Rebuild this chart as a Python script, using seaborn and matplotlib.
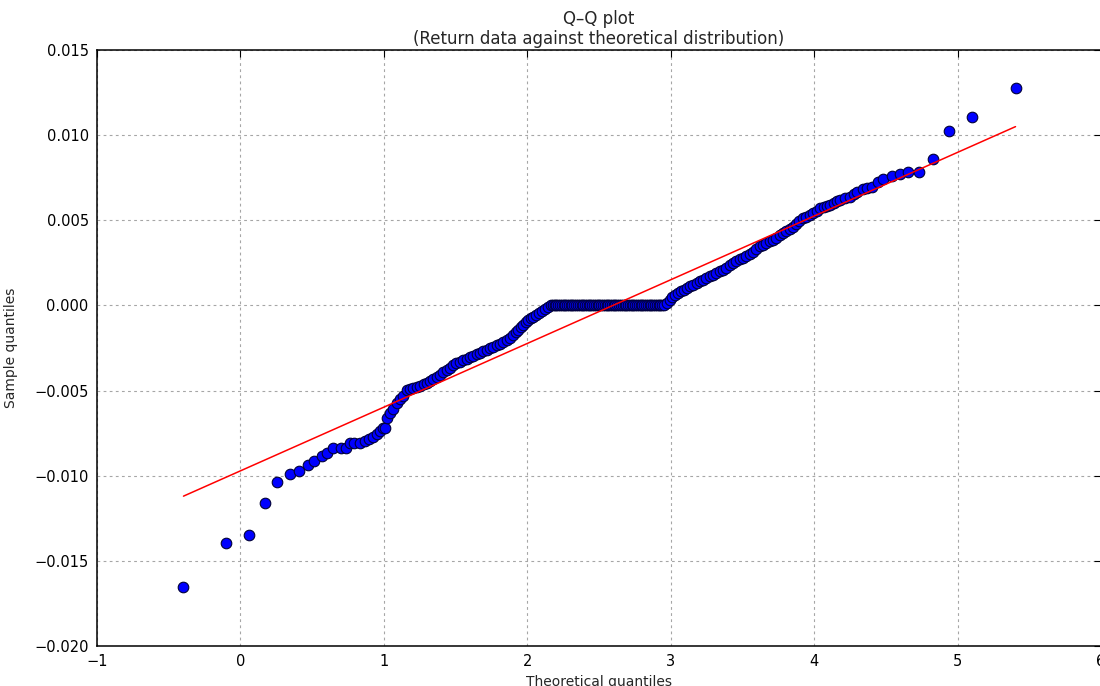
import numpy as np
import pandas as pd
import seaborn as sns
import matplotlib
matplotlib.use('Agg')
import matplotlib.pyplot as plt

# Q-Q points (theoretical quantile, sample quantile)
theoretical = [
    -0.397, -0.104, 0.063, 0.174, 0.258, 0.348, 0.411, 0.474, 0.515, 0.571,
    0.606, 0.648, 0.703, 0.738, 0.766, 0.794, 0.836, 0.870, 0.898, 0.926,
    0.954, 0.975, 0.996, 1.010, 1.024, 1.045, 1.065, 1.093, 1.114, 1.135,
    1.163, 1.184, 1.205, 1.233, 1.253, 1.281, 1.302, 1.323, 1.344, 1.372,
    1.393, 1.414, 1.442, 1.462, 1.483, 1.504, 1.532, 1.553, 1.581, 1.602,
    1.623, 1.650, 1.671, 1.692, 1.720, 1.741, 1.762, 1.790, 1.811, 1.831,
    1.859, 1.880, 1.901, 1.922, 1.936, 1.957, 1.971, 1.992, 2.006, 2.026,
    2.040, 2.061, 2.082, 2.103, 2.124, 2.145, 2.166,
    # flat run of zero returns
    2.178, 2.190, 2.203, 2.215, 2.228, 2.240, 2.253, 2.265, 2.278, 2.290,
    2.303, 2.315, 2.328, 2.340, 2.353, 2.365, 2.378, 2.390, 2.403, 2.415,
    2.428, 2.440, 2.453, 2.465, 2.478, 2.490, 2.503, 2.515, 2.528, 2.540,
    2.553, 2.565, 2.578, 2.590, 2.603, 2.615, 2.628, 2.640, 2.653, 2.665,
    2.678, 2.690, 2.703, 2.715, 2.728, 2.740, 2.753, 2.765, 2.778, 2.790,
    2.803, 2.815, 2.828, 2.840, 2.853, 2.865, 2.878, 2.890, 2.903, 2.915,
    2.928, 2.940, 2.955,
    2.974, 2.994, 3.008, 3.029, 3.050, 3.071, 3.092, 3.113, 3.134, 3.155,
    3.182, 3.203, 3.224, 3.245, 3.273, 3.294, 3.315, 3.343, 3.363, 3.384,
    3.412, 3.433, 3.454, 3.482, 3.503, 3.524, 3.552, 3.572, 3.593, 3.621,
    3.642, 3.663, 3.691, 3.712, 3.733, 3.760, 3.781, 3.802, 3.830, 3.851,
    3.872, 3.893, 3.921, 3.942, 3.969, 3.990, 4.018, 4.039, 4.067, 4.088,
    4.109, 4.136, 4.157, 4.178, 4.213, 4.248, 4.276, 4.297, 4.338, 4.366,
    4.401, 4.443, 4.478, 4.540, 4.596, 4.652, 4.728, 4.826, 4.937, 5.104,
    5.404,
]
sample = [
    -0.01654, -0.01398, -0.01348, -0.01160, -0.01037, -0.00990, -0.00972, -0.00937, -0.00913, -0.00884,
    -0.00866, -0.00837, -0.00837, -0.00837, -0.00808, -0.00808, -0.00808, -0.00796, -0.00785, -0.00773,
    -0.00755, -0.00737, -0.00720, -0.00720, -0.00661, -0.00632, -0.00608, -0.00573, -0.00550, -0.00532,
    -0.00496, -0.00491, -0.00485, -0.00479, -0.00473, -0.00461, -0.00456, -0.00444, -0.00432, -0.00420,
    -0.00408, -0.00391, -0.00379, -0.00368, -0.00350, -0.00338, -0.00332, -0.00320, -0.00314, -0.00303,
    -0.00297, -0.00285, -0.00279, -0.00268, -0.00262, -0.00250, -0.00244, -0.00232, -0.00227, -0.00215,
    -0.00203, -0.00191, -0.00174, -0.00156, -0.00144, -0.00127, -0.00115, -0.00097, -0.00085, -0.00073,
    -0.00067, -0.00055, -0.00044, -0.00032, -0.00021, -0.00009, 0.0,
    0.0, 0.0, 0.0, 0.0, 0.0, 0.0, 0.0, 0.0, 0.0, 0.0,
    0.0, 0.0, 0.0, 0.0, 0.0, 0.0, 0.0, 0.0, 0.0, 0.0,
    0.0, 0.0, 0.0, 0.0, 0.0, 0.0, 0.0, 0.0, 0.0, 0.0,
    0.0, 0.0, 0.0, 0.0, 0.0, 0.0, 0.0, 0.0, 0.0, 0.0,
    0.0, 0.0, 0.0, 0.0, 0.0, 0.0, 0.0, 0.0, 0.0, 0.0,
    0.0, 0.0, 0.0, 0.0, 0.0, 0.0, 0.0, 0.0, 0.0, 0.0,
    0.0, 0.0, 0.0,
    0.00014, 0.00032, 0.00049, 0.00061, 0.00073, 0.00085, 0.00090, 0.00102, 0.00114, 0.00120,
    0.00132, 0.00143, 0.00149, 0.00161, 0.00173, 0.00179, 0.00190, 0.00202, 0.00208, 0.00220,
    0.00237, 0.00249, 0.00261, 0.00273, 0.00278, 0.00290, 0.00302, 0.00314, 0.00331, 0.00349,
    0.00355, 0.00366, 0.00378, 0.00384, 0.00396, 0.00413, 0.00425, 0.00437, 0.00449, 0.00460,
    0.00478, 0.00496, 0.00513, 0.00519, 0.00531, 0.00543, 0.00554, 0.00572, 0.00578, 0.00584,
    0.00590, 0.00601, 0.00613, 0.00619, 0.00631, 0.00637, 0.00654, 0.00666, 0.00684, 0.00689,
    0.00695, 0.00725, 0.00742, 0.00760, 0.00771, 0.00783, 0.00783, 0.00860, 0.01024, 0.01106,
    0.01277,
]

# fitted reference line end points
line_x = [-0.397, 5.404]
line_y = [-0.0112, 0.0105]

df = pd.DataFrame({'theoretical': theoretical, 'sample': sample})
df_line = pd.DataFrame({'x': line_x, 'y': line_y})

sns.set_style('white')
plt.rcParams['font.family'] = ['DejaVu Sans']

fig = plt.figure(figsize=(11, 6.86), dpi=100, facecolor='white')
ax = fig.add_axes([97 / 1100, 40 / 686, 1004 / 1100, 596 / 686])

sns.scatterplot(data=df, x='theoretical', y='sample', ax=ax, color='blue',
                edgecolor='#000038', linewidth=0.8, s=58, zorder=3)
sns.lineplot(data=df_line, x='x', y='y', ax=ax, color='red', linewidth=1.1,
             sort=False, zorder=4)

ax.set_xlim(-1, 6)
ax.set_ylim(-0.020, 0.015)
ax.set_xticks(np.arange(-1, 7, 1))
ax.set_yticks(np.arange(-0.020, 0.0151, 0.005))
ax.yaxis.set_major_formatter(matplotlib.ticker.FuncFormatter(
    lambda v, p: ('%.3f' % v).replace('-', '\u2212')))
ax.xaxis.set_major_formatter(matplotlib.ticker.FuncFormatter(
    lambda v, p: ('%d' % round(v)).replace('-', '\u2212')))

ax.grid(True, color='0.65', linestyle=(0, (2.5, 3)), linewidth=0.8)
ax.set_axisbelow(True)
ax.tick_params(direction='in', length=5, width=0.8, top=True, right=True,
               labelsize=10.5, pad=6, colors='black')
for sp in ax.spines.values():
    sp.set_visible(True)
    sp.set_color('black')
    sp.set_linewidth(1.1)

ax.set_xlabel('Theoretical quantiles', fontsize=10, labelpad=4)
ax.set_ylabel('Sample quantiles', fontsize=10, labelpad=12)
ax.set_title('Q\u2013Q plot\n(Return data against theoretical distribution)',
             fontsize=12, pad=4)

fig.savefig('out.png', dpi=100, facecolor='white')
